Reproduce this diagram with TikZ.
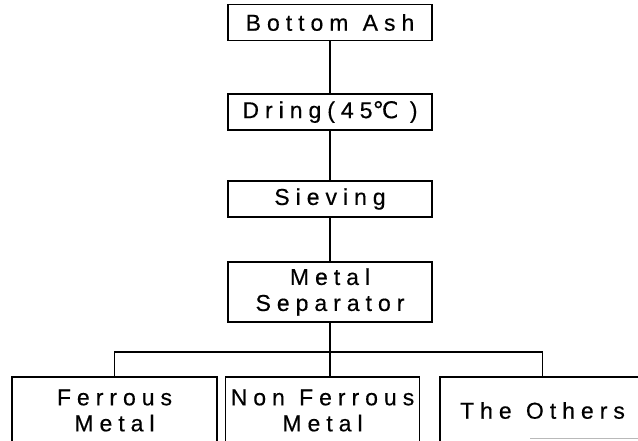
\documentclass[tikz,border=0pt]{standalone}
\usepackage{fontspec}
\setmainfont{Liberation Sans}[LetterSpace=26,FakeBold=0.4]
\newfontfamily\degfont{DejaVu Sans}[LetterSpace=26,FakeBold=0.4]
\newcommand{\wsp}{\hspace{0.62em}}
\begin{document}
\begin{tikzpicture}[x=1pt,y=-1pt,
  box/.style={draw,line width=1.2pt,inner sep=0pt,align=center,
    font=\fontsize{23}{26}\selectfont},
  conn/.style={line width=1.2pt}]
\clip (0,0) rectangle (638,441);
\fill[white] (0,0) rectangle (638,441);
\node[box,minimum width=204pt,minimum height=36pt] (ba) at (330,22.5) {Bottom\wsp Ash};
\node[box,minimum width=204pt,minimum height=36pt] (dr) at (330,112) {Dring(45{\degfont ℃}\hspace{0.5em})};
\node[box,minimum width=204pt,minimum height=36pt] (sv) at (330,199) {Sieving};
\node[box,minimum width=204pt,minimum height=60pt] (ms) at (330,292) {Metal\\Separator};
\node[box,minimum width=205pt,minimum height=67pt] (fe) at (114.5,410.5) {Ferrous\\Metal};
\node[box,minimum width=194pt,minimum height=67pt] (nf) at (322.5,410.5) {Non\wsp Ferrous\\Metal};
\node[box,minimum width=205pt,minimum height=67pt] (ot) at (542.5,410.5) {The\wsp Others};
\coordinate (j) at (330,352);
\coordinate (g1) at (530,438.5);
\coordinate (g2) at (638,438.5);
\draw[conn] (ba) -- (dr);
\draw[conn] (dr) -- (sv);
\draw[conn] (sv) -- (ms);
\draw[conn] (ms.south) -- (ms.south |- nf.north);
\draw[conn] (fe.north) |- (j) -| (ot.north);
\draw[gray!55,line width=1pt] (g1) -- (g2);
\end{tikzpicture}
\end{document}
